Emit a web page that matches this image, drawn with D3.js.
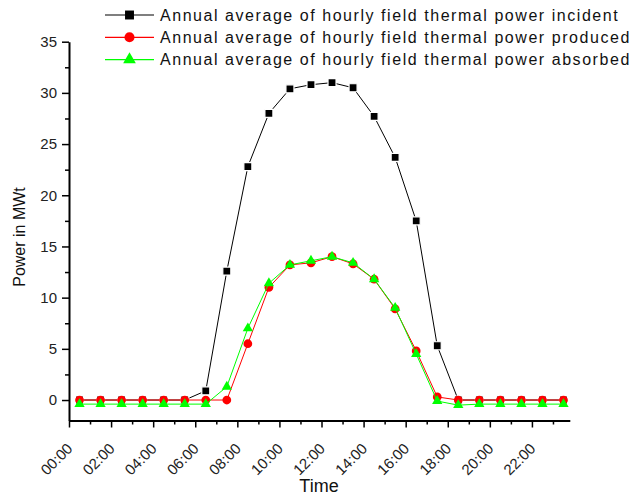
<!DOCTYPE html>
<html>
<head>
<meta charset="utf-8">
<script src="https://cdn.jsdelivr.net/npm/d3@7"></script>
<style>
  body { margin: 0; background: #fff; }
  svg { display: block; font-family: "Liberation Sans", Arial, sans-serif; }
  .axis .domain { stroke: #000; stroke-width: 2; }
  .axis line { stroke: #000; stroke-width: 1.5; }
  .axis text { fill: #222; font-size: 15px; font-family: "Liberation Sans", Arial, sans-serif; }
</style>
</head>
<body>
<svg width="633" height="497"></svg>
<script>
// hours of day (mid-hour samples)
const times = [0.5, 1.5, 2.5, 3.5, 4.5, 5.5, 6.5, 7.5, 8.5, 9.5, 10.5, 11.5,
  12.5, 13.5, 14.5, 15.5, 16.5, 17.5, 18.5, 19.5, 20.5, 21.5, 22.5, 23.5];

const incident = [0, 0, 0, 0, 0, 0, 0.9, 12.6, 22.8, 28.0, 30.4, 30.8,
  31.0, 30.5, 27.7, 23.7, 17.5, 5.3, 0, 0, 0, 0, 0, 0];
const produced = [0, 0, 0, 0, 0, 0, 0, 0, 5.5, 11.0, 13.2, 13.4,
  14.0, 13.3, 11.8, 8.9, 4.8, 0.3, 0, 0, 0, 0, 0, 0];
const absorbed = [-0.4, -0.4, -0.4, -0.4, -0.4, -0.4, -0.4, 1.3, 7.0, 11.4, 13.2, 13.6,
  14.0, 13.4, 11.8, 9.0, 4.5, -0.1, -0.5, -0.4, -0.4, -0.4, -0.4, -0.4];

const xMajor = [0, 2, 4, 6, 8, 10, 12, 14, 16, 18, 20, 22];
const xMinor = [1, 3, 5, 7, 9, 11, 13, 15, 17, 19, 21, 23];
const yMajor = [0, 5, 10, 15, 20, 25, 30, 35];
const yMinor = [2.5, 7.5, 12.5, 17.5, 22.5, 27.5, 32.5];

const seriesNames = [
  "Annual average of hourly field thermal power incident",
  "Annual average of hourly field thermal power produced",
  "Annual average of hourly field thermal power absorbed"
];

const svg = d3.select("svg");

const x = d3.scaleLinear().domain([0, 23.8]).range([69, 569.8]);
const y = d3.scaleLinear().domain([-2, 35]).range([420.5, 41.7]);

const hhmm = h => (h < 10 ? "0" : "") + h + ":00";

// x axis: minor first (no labels), then major
svg.append("g")
  .attr("class", "axis")
  .attr("transform", `translate(0,${y(-2)})`)
  .call(d3.axisBottom(x).tickValues(xMinor).tickSize(4).tickSizeOuter(0).tickFormat(""))
  .call(g => g.select(".domain").remove());

svg.append("g")
  .attr("class", "axis")
  .attr("transform", `translate(0,${y(-2)})`)
  .call(d3.axisBottom(x).tickValues(xMajor).tickSize(7).tickSizeOuter(0).tickFormat(hhmm))
  .selectAll("text")
  .attr("x", 0)
  .attr("y", 0)
  .attr("dy", 0)
  .attr("transform", "translate(4,29) rotate(-45)")
  .style("text-anchor", "end");

// y axis
svg.append("g")
  .attr("class", "axis")
  .attr("transform", `translate(${x(0)},0)`)
  .call(d3.axisLeft(y).tickValues(yMinor).tickSize(4).tickSizeOuter(0).tickFormat(""))
  .call(g => g.select(".domain").remove());

svg.append("g")
  .attr("class", "axis")
  .attr("transform", `translate(${x(0)},0)`)
  .call(d3.axisLeft(y).tickValues(yMajor).tickSize(7).tickSizeOuter(0).tickPadding(5));

// axis titles
svg.append("text")
  .attr("transform", "translate(25,237) rotate(-90)")
  .attr("text-anchor", "middle")
  .style("font-size", "16px")
  .attr("fill", "#111")
  .text("Power in MWt");

svg.append("text")
  .attr("x", 319)
  .attr("y", 492)
  .attr("text-anchor", "middle")
  .style("font-size", "18px")
  .attr("fill", "#111")
  .text("Time");

const line = d3.line()
  .x((d, i) => x(times[i]))
  .y(d => y(d));

const square = d3.symbol().type(d3.symbolSquare).size(64);
const circle = d3.symbol().type(d3.symbolCircle).size(60);
const tri = d3.symbol().type(d3.symbolTriangle).size(46);

const series = [
  {values: incident, color: "#000000", sym: square, halo: true},
  {values: produced, color: "#ff0000", sym: circle, halo: false},
  {values: absorbed, color: "#00ff00", sym: tri, halo: false}
];

series.forEach(s => {
  const g = svg.append("g");
  g.append("path")
    .datum(s.values)
    .attr("fill", "none")
    .attr("stroke", s.color)
    .attr("stroke-width", 1)
    .attr("d", line);
  g.selectAll("path.pt")
    .data(s.values)
    .enter().append("path")
    .attr("class", "pt")
    .attr("d", s.sym)
    .attr("transform", (d, i) => `translate(${x(times[i])},${y(d)})`)
    .attr("fill", s.color)
    .attr("stroke", s.halo ? "#fff" : "none")
    .attr("stroke-width", s.halo ? 1.2 : 0);
});

// legend
const legend = svg.selectAll(".legend")
  .data(series)
  .enter().append("g")
  .attr("class", "legend")
  .attr("transform", (d, i) => `translate(0,${15 + i * 22.3})`);

legend.append("line")
  .attr("x1", 105)
  .attr("x2", 154)
  .attr("stroke", d => d.color)
  .attr("stroke-width", 1.2);

legend.append("path")
  .attr("d", (d, i) => i === 0 ? d3.symbol().type(d3.symbolSquare).size(80)() :
    i === 1 ? d3.symbol().type(d3.symbolCircle).size(80)() : d3.symbol().type(d3.symbolTriangle).size(70)())
  .attr("transform", "translate(129.5,0)")
  .attr("fill", d => d.color);

legend.append("text")
  .attr("x", 160)
  .attr("dy", "0.36em")
  .style("font-size", "16px")
  .style("letter-spacing", "1.55px")
  .attr("fill", "#111")
  .text((d, i) => seriesNames[i]);
</script>
</body>
</html>
